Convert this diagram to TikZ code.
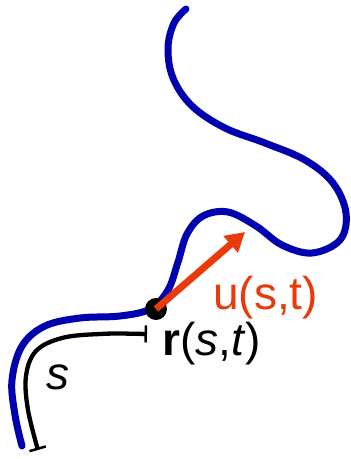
\documentclass[tikz,border=0pt]{standalone}
\usepackage{fontspec}
\setmainfont{Liberation Sans}
\usetikzlibrary{arrows.meta}
\definecolor{curveblue}{RGB}{0,0,175}
\definecolor{vecred}{RGB}{232,58,10}
\tikzset{
  chain/.style={curveblue, line width=7pt, line cap=round, line join=round},
  arclen/.style={black, line width=4.3pt, {Bar[width=17pt,line width=2.5pt]}-{Bar[width=17pt,line width=2.5pt]}},
  vec/.style={vecred, line width=7pt, -{Triangle[length=19pt,width=21pt]}},
  lbl/.style={inner sep=0pt, anchor=base west, font=\fontsize{46}{52}\selectfont}
}
\begin{document}
\begin{tikzpicture}[x=1pt,y=-1pt]
\useasboundingbox (0,0) rectangle (351,459);
\draw[chain] plot[smooth, tension=0.6] coordinates {
 (186,9) (174,23) (168,48) (173,78) (192,106) (225,128) (265,143) (305,160)
 (333,183) (346,213) (340,240) (312,253) (282,245) (256,226) (228,212)
 (203,216) (187,234) (178,262) (168,290) (150,309) (120,316) (80,318)
 (45,326) (22,346) (12,380) (15,415) (22,446)};
\draw[arclen] plot[smooth, tension=0.6] coordinates {
 (147,334) (100,334) (62,338) (36,351) (26,376) (28,410) (38,450)};
\node[circle, fill=black, minimum size=22pt, inner sep=0pt] (r) at (156,309) {};
\coordinate (tip) at (245,232);
\draw[vec] (r.center) -- (tip);
\node[lbl, text=vecred] (u) at (213,309) {u(s,t)};
\node[lbl] (rl) at (162,355) {\textbf{r}(\textit{s},\textit{t})};
\node[lbl] (s) at (46,389) {\textit{s}};
\end{tikzpicture}
\end{document}
